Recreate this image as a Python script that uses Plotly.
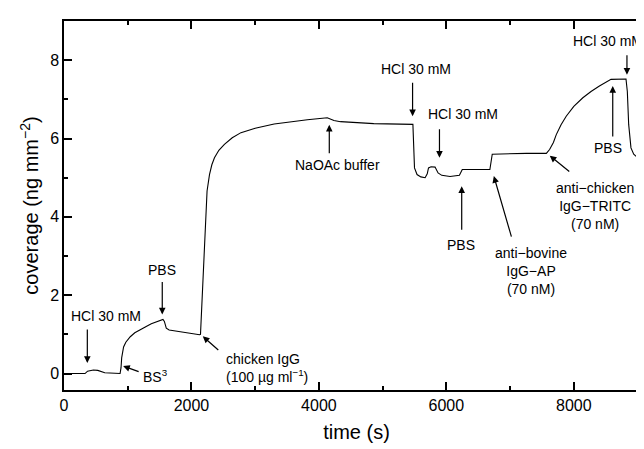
import plotly.graph_objects as go

# ---- data ----
time_s = [0, 330, 370, 460, 530, 640, 880, 895, 905, 918, 935, 970, 1040, 1111, 1200,
          1290, 1370, 1440, 1500, 1553, 1575, 1605, 1650, 1790, 2127, 2142, 2160, 2178,
          2214, 2245, 2283, 2320, 2361, 2430, 2517, 2640, 2777, 3000, 3298, 3550, 3819,
          4131, 4236, 4339, 4861, 5475, 5490, 5500, 5540, 5600, 5667, 5700, 5720, 5760,
          5823, 5870, 5928, 6058, 6205, 6225, 6250, 6683, 6700, 6720, 7256, 7569, 7620,
          7680, 7725, 7800, 7881, 8000, 8142, 8270, 8402, 8500, 8584, 8819, 8840, 8861,
          8897, 8940, 8975, 9010, 9027, 9060, 9200]
coverage = [0.0, 0.0, 0.06, 0.09, 0.08, 0.02, 0.0, 0.15, 0.4, 0.58, 0.68, 0.8, 0.94, 1.04, 1.13,
            1.2, 1.27, 1.32, 1.35, 1.38, 1.33, 1.16, 1.11, 1.07, 0.99, 1.0, 1.6, 2.36,
            3.72, 4.66, 5.08, 5.33, 5.51, 5.7, 5.85, 6.02, 6.15, 6.26, 6.37, 6.43, 6.48,
            6.53, 6.46, 6.43, 6.38, 6.36, 5.6, 5.25, 5.08, 5.02, 5.0, 5.1, 5.25, 5.28,
            5.27, 5.12, 5.06, 5.03, 5.06, 5.15, 5.21, 5.21, 5.4, 5.6, 5.62, 5.62, 5.72,
            5.9, 6.1, 6.35, 6.57, 6.82, 7.04, 7.2, 7.34, 7.44, 7.51, 7.52, 7.2, 6.36,
            5.76, 5.6, 5.55, 5.57, 6.0, 6.04, 6.04]

# event arrows: head position (data) and tail offset (pixels)
arrow_x = [366, 1542, 928, 2178, 4163, 5470, 5892, 6241, 6745, 7623, 8611, 8834]
arrow_y = [0.27, 1.51, 0.19, 0.95, 6.35, 6.57, 5.51, 4.78, 5.04, 5.56, 7.34, 7.63]
arrow_ax = [0, 0, 17, 17, 0, 0, 0, 0, 18, 21, 0, 0]
arrow_ay = [-35, -34, 6, 15, 30, -35, -30, 45, 62, 17, 52, -21]

# event labels
label_text = ["HCl 30 mM", "PBS", "BS<sup>3</sup>",
              "chicken IgG<br>(100 \u00b5g ml<sup>\u22121</sup>)",
              "NaOAc buffer", "HCl 30 mM", "HCl 30 mM", "PBS",
              "anti\u2212bovine<br>IgG\u2212AP<br>(70 nM)",
              "anti\u2212chicken<br>IgG\u2212TRITC<br>(70 nM)",
              "PBS", "HCl 30 mM"]
label_x = [662, 1542, 1209, 2514, 4288, 5522, 6256, 6230, 7334, 8330, 8533, 8540]
label_y = [1.47, 2.65, -0.06, 0.15, 5.33, 7.78, 6.63, 3.28, 2.62, 4.28, 5.76, 8.49]
label_anchor = ["center", "center", "left", "left", "center", "center", "center",
                "center", "center", "center", "center", "center"]

x_ticks = [0, 2000, 4000, 6000, 8000]
y_ticks = [0, 2, 4, 6, 8]

FONT = "Liberation Sans, Arial, Helvetica, sans-serif"

fig = go.Figure()
fig.add_trace(go.Scatter(x=time_s, y=coverage, mode="lines",
                         line=dict(color="black", width=1.1), showlegend=False,
                         hoverinfo="skip"))

annotations = []
for x, y, ax, ay in zip(arrow_x, arrow_y, arrow_ax, arrow_ay):
    annotations.append(dict(x=x, y=y, xref="x", yref="y", text="", showarrow=True,
                            ax=ax, ay=ay, arrowhead=2, arrowsize=1.1, arrowwidth=1.2,
                            arrowcolor="black", standoff=0, startstandoff=0))
for t, x, y, a in zip(label_text, label_x, label_y, label_anchor):
    annotations.append(dict(x=x, y=y, xref="x", yref="y", text=t, showarrow=False,
                            xanchor=a, yanchor="middle", align="center" if a == "center" else "left",
                            font=dict(family=FONT, size=14, color="black")))

fig.update_layout(
    width=644, height=449,
    margin=dict(l=56, r=1, t=13, b=67),
    paper_bgcolor="white", plot_bgcolor="white",
    font=dict(family=FONT, color="black"),
    annotations=annotations,
    xaxis=dict(range=[0, 9180], tickvals=x_ticks, ticks="inside", ticklen=8, tickwidth=1.5,
               tickcolor="black", showline=True, linecolor="black", linewidth=1.5,
               mirror="ticks", showgrid=False, zeroline=False,
               tickfont=dict(size=16, family=FONT),
               minor=dict(ticks="inside", ticklen=4, tickwidth=1.5, dtick=1000, tick0=0,
                          tickcolor="black", showgrid=False),
               title=dict(text="time (s)", font=dict(size=20, family=FONT), standoff=12)),
    yaxis=dict(range=[-0.42, 9.0], tickvals=y_ticks, ticks="inside", ticklen=8, tickwidth=1.5,
               tickcolor="black", showline=True, linecolor="black", linewidth=1.5,
               mirror="ticks", showgrid=False, zeroline=False,
               tickfont=dict(size=16, family=FONT),
               minor=dict(ticks="inside", ticklen=4, tickwidth=1.5, dtick=1, tick0=0,
                          tickcolor="black", showgrid=False),
               title=dict(text="coverage (ng mm<sup>\u22122</sup>)",
                          font=dict(size=20, family=FONT), standoff=6)),
)

fig.write_html("out.html")
